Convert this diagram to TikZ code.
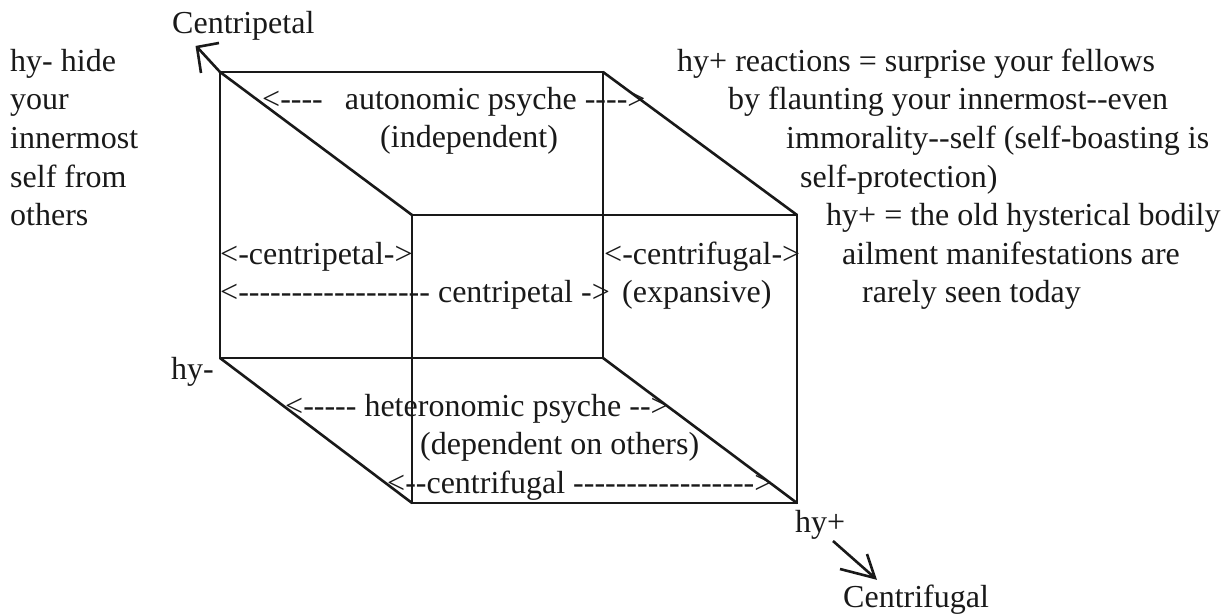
\documentclass[tikz,border=0pt]{standalone}
\usepackage{fontspec}
\setmainfont{Liberation Serif}[Ligatures=TeXOff]
\begin{document}
\begin{tikzpicture}[x=1pt,y=-1pt,
  edge/.style={line width=2.6pt, draw=black!90},
  lbl/.style={inner sep=0pt, anchor=base west, font=\fontsize{32}{38}\selectfont, text=black!90}]
\useasboundingbox (0,0) rectangle (1225,615);
% cube corners
\coordinate (BTL) at (220,72);
\coordinate (BTR) at (603,72);
\coordinate (BBL) at (220,358);
\coordinate (BBR) at (603,358);
\coordinate (FTL) at (412,215);
\coordinate (FTR) at (797,215);
\coordinate (FBL) at (412,503);
\coordinate (FBR) at (797,503);
% back square
\draw[edge] (BTL) -- (BTR) -- (BBR) -- (BBL) -- cycle;
% front square
\draw[edge] (FTL) -- (FTR) -- (FBR) -- (FBL) -- cycle;
% diagonals
\draw[edge] (BTL) -- (FTL);
\draw[edge] (BTR) -- (FTR);
\draw[edge] (BBL) -- (FBL);
\draw[edge] (BBR) -- (FBR);
% centripetal arrow
\coordinate (CPtip) at (197,47);
\coordinate (CPa) at (219,43);
\coordinate (CPb) at (201,73);
\draw[edge] (BTL) -- (CPtip);
\draw[edge] (CPa) -- (CPtip) -- (CPb);
% centrifugal arrow
\coordinate (CFs) at (833,541);
\coordinate (CFtip) at (875,578);
\coordinate (CFa) at (840,569);
\coordinate (CFb) at (867,554);
\draw[edge] (CFs) -- (CFtip);
\draw[edge] (CFa) -- (CFtip) -- (CFb);
% axis labels
\node[lbl] (tCentripetal) at (172,34) {Centripetal};
\node[lbl] (tCentrifugal) at (843,607) {Centrifugal};
\node[lbl] (thyminus) at (171,379) {hy-};
\node[lbl] (thyplus) at (795,532) {hy+};
% left column
\node[lbl] (l1) at (10,71.5) {hy- hide};
\node[lbl] (l2) at (10,110) {your};
\node[lbl] (l3) at (10,148.5) {innermost};
\node[lbl] (l4) at (10,187) {self from};
\node[lbl] (l5) at (10,225.5) {others};
% right column
\node[lbl] (r1) at (677,71.5) {hy+ reactions = surprise your fellows};
\node[lbl] (r2) at (728,110) {by flaunting your innermost--even};
\node[lbl] (r3) at (786,148.5) {immorality--self (self-boasting is};
\node[lbl] (r4) at (800,187) {self-protection)};
\node[lbl] (r5) at (826,225.5) {hy+ = the old hysterical bodily};
\node[lbl] (r6) at (842,264) {ailment manifestations are};
\node[lbl] (r7) at (862,302.5) {rarely seen today};
% inner labels
\node[lbl] (a1) at (262,109.5) {<----\hspace{22pt}autonomic psyche ---->};
\node[lbl] (a2) at (380,147) {(independent)};
\node[lbl] (c1) at (220,264) {<-centripetal->};
\node[lbl] (c2) at (220,302.5) {<------------------ centripetal ->};
\node[lbl] (c3) at (604,264) {<-centrifugal->};
\node[lbl] (c4) at (622,302.5) {(expansive)};
\node[lbl] (h1) at (285,416) {<----- heteronomic psyche -->};
\node[lbl] (h2) at (420,454) {(dependent on others)};
\node[lbl] (h3) at (387,493) {<--centrifugal ----------------->};
\end{tikzpicture}
\end{document}
